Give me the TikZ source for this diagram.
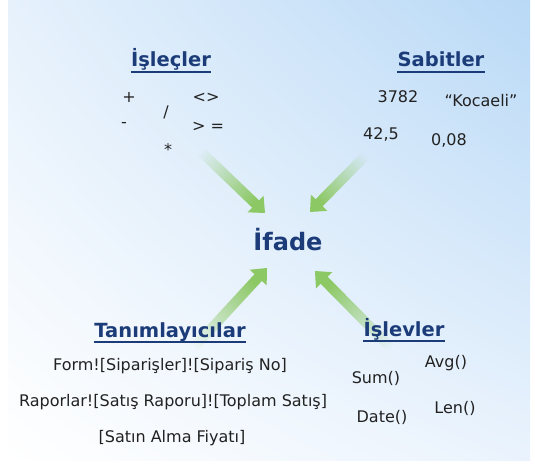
\documentclass[tikz,border=0pt]{standalone}
\usepackage{fontspec}
\setmainfont{DejaVu Sans}
\usetikzlibrary{calc,fadings,shadings}
\definecolor{navy}{HTML}{1B3C78}
\definecolor{bodytxt}{HTML}{222222}
\definecolor{arrowgreen}{HTML}{8CC864}
\definecolor{bgblue}{HTML}{B9D9F6}
\definecolor{bgpale}{HTML}{E6F1FC}
\definecolor{bgpale2}{HTML}{EAF3FD}
\tikzfading[name=arrowfade, left color=transparent!100, middle color=transparent!25, right color=transparent!0]
\newcommand{\fadearrow}[3]{%
  \coordinate (hb) at ($(#2)!13pt!(#1)$);
  \fill[arrowgreen, path fading=arrowfade, fading angle=#3]
    ($(#1)!5pt!90:(#2)$) -- ($(hb)!5pt!-90:(#1)$) -- ($(hb)!11.5pt!-90:(#1)$)
    -- (#2) -- ($(hb)!11.5pt!90:(#1)$) -- ($(hb)!5pt!90:(#1)$)
    -- ($(#1)!5pt!-90:(#2)$) -- cycle;
}
\tikzset{
  title/.style={anchor=base, inner sep=0pt, text=navy, font=\bfseries\fontsize{19.5}{20}\selectfont},
  body/.style={inner sep=0pt, text=bodytxt, font=\fontsize{16}{17}\selectfont},
  uline/.style={navy, line width=1.5pt},
}
\newcommand{\uline}[1]{\draw[uline] ([yshift=-5pt]#1.base west) -- ([yshift=-5pt]#1.base east);}
\begin{document}
\begin{tikzpicture}[x=1pt,y=-1pt]
\useasboundingbox (0,0) rectangle (535,465);
\fill[white] (0,0) rectangle (535,465);
\shade[upper left=bgpale, upper right=bgblue, lower left=white, lower right=bgpale2] (8,0) rectangle (530,460);

% arrows (drawn behind the texts)
\coordinate (t1) at (193,144); \coordinate (h1) at (265,213);
\coordinate (t2) at (372,149); \coordinate (h2) at (310,212);
\coordinate (t3) at (184,358); \coordinate (h3) at (267,268);
\coordinate (t4) at (400,357); \coordinate (h4) at (315,271);
\fadearrow{t1}{h1}{-43}
\fadearrow{t2}{h2}{-134}
\fadearrow{t3}{h3}{46}
\fadearrow{t4}{h4}{134}

% titles
\node[title] (islecler) at (171,67) {İşleçler};
\node[title] (sabitler) at (441,67) {Sabitler};
\node[title] (taniml) at (170,337) {Tanımlayıcılar};
\node[title] (islevler) at (404,336) {İşlevler};
\uline{islecler}\uline{sabitler}\uline{taniml}\uline{islevler}

\node[anchor=center, inner sep=0pt, text=navy, font=\bfseries\fontsize{24}{24}\selectfont] (ifade) at (288,240) {İfade};

% operators
\node[body] (plus) at (129,97) {+};
\node[body] (minus) at (124,125) {-};
\node[body] (slash) at (166,112) {/};
\node[body] (star) at (168,150) {*};
\node[body] (ne) at (206,98) {<>};
\node[body] (ge) at (208,127) {> =};

% constants
\node[body] (c1) at (398,97) {3782};
\node[body] (c2) at (481,101) {“Kocaeli”};
\node[body] (c3) at (381,134) {42,5};
\node[body] (c4) at (449,140) {0,08};

% identifiers
\node[body] (id1) at (170,366) {Form![Siparişler]![Sipariş No]};
\node[body] (id2) at (173,402) {Raporlar![Satış Raporu]![Toplam Satış]};
\node[body] (id3) at (172,438) {[Satın Alma Fiyatı]};

% functions
\node[body] (f1) at (376,378) {Sum()};
\node[body] (f2) at (446,363) {Avg()};
\node[body] (f3) at (382,417) {Date()};
\node[body] (f4) at (455,408) {Len()};
\end{tikzpicture}
\end{document}
